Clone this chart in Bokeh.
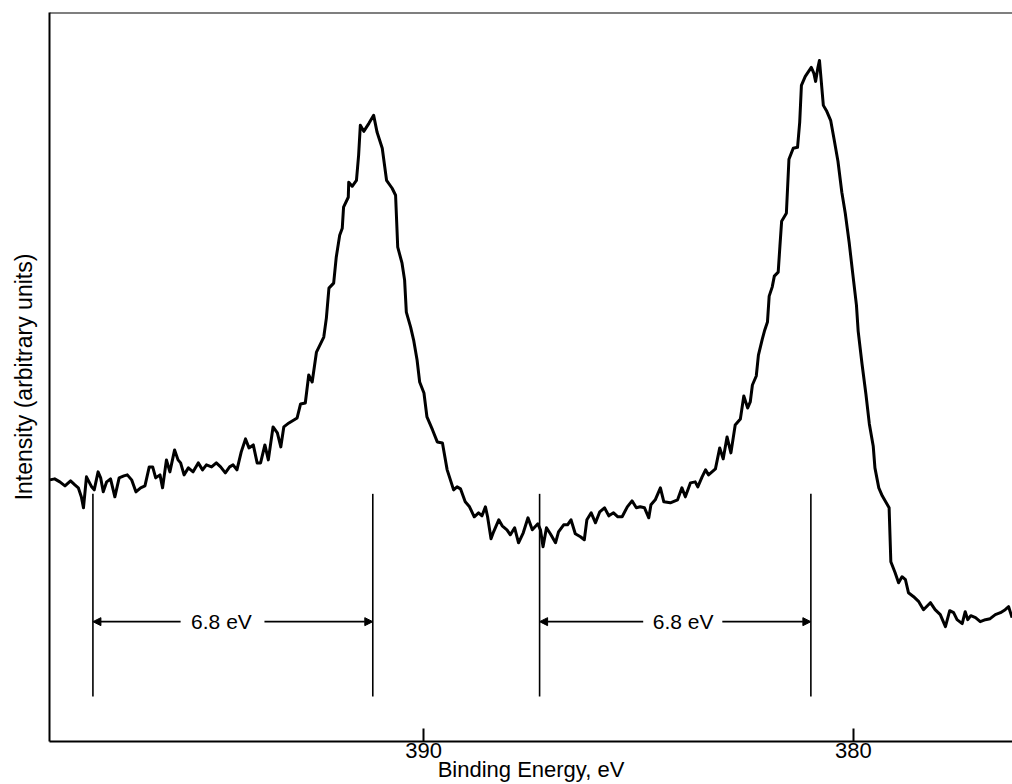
from bokeh.plotting import figure
from bokeh.models import Range1d, FixedTicker, Span, Arrow, NormalHead
from bokeh.core.properties import value
from bokeh.embed import file_html
from bokeh.resources import INLINE

# ---- data (binding energy in eV, intensity in arbitrary units) ----
energy = [
    398.69, 398.58, 398.46, 398.34, 398.21, 398.11, 398.03, 397.96, 397.91, 397.84,
    397.78, 397.72, 397.66, 397.57, 397.51, 397.45, 397.37, 397.28, 397.18, 397.08,
    396.97, 396.89, 396.79, 396.69, 396.58, 396.48, 396.38, 396.30, 396.23, 396.13,
    396.07, 395.98, 395.90, 395.79, 395.71, 395.65, 395.57, 395.47, 395.36, 395.24,
    395.14, 395.05, 394.93, 394.82, 394.72, 394.61, 394.51, 394.43, 394.34, 394.24,
    394.14, 394.06, 393.96, 393.87, 393.79, 393.69, 393.61, 393.50, 393.40, 393.32,
    393.25, 393.13, 392.94, 392.86, 392.75, 392.67, 392.59, 392.49, 392.32, 392.26,
    392.20, 392.09, 392.03, 391.95, 391.89, 391.86, 391.75, 391.74, 391.66, 391.56,
    391.51, 391.47, 391.39, 391.27, 391.16, 391.08, 390.96, 390.86, 390.73, 390.65,
    390.60, 390.50, 390.44, 390.40, 390.30, 390.23, 390.15, 390.09, 389.99, 389.92,
    389.79, 389.68, 389.56, 389.45, 389.30, 389.22, 389.14, 389.03, 388.93, 388.82,
    388.72, 388.64, 388.56, 388.51, 388.43, 388.37, 388.25, 388.17, 388.06, 387.98,
    387.88, 387.79, 387.68, 387.57, 387.47, 387.34, 387.28, 387.22, 387.14, 387.05,
    386.93, 386.86, 386.74, 386.65, 386.57, 386.47, 386.35, 386.26, 386.20, 386.10,
    386.00, 385.90, 385.79, 385.69, 385.58, 385.48, 385.38, 385.26, 385.15, 385.05,
    384.96, 384.86, 384.76, 384.71, 384.61, 384.49, 384.41, 384.26, 384.09, 383.99,
    383.91, 383.79, 383.68, 383.62, 383.52, 383.44, 383.37, 383.21, 383.11, 383.03,
    382.94, 382.85, 382.75, 382.63, 382.55, 382.46, 382.40, 382.35, 382.26, 382.21,
    382.12, 382.07, 382.00, 381.96, 381.89, 381.84, 381.75, 381.71, 381.67, 381.56,
    381.50, 381.40, 381.30, 381.25, 381.21, 381.12, 380.98, 380.92, 380.88, 380.83,
    380.79, 380.75, 380.70, 380.62, 380.53, 380.45, 380.36, 380.27, 380.19, 380.10,
    380.02, 379.93, 379.89, 379.80, 379.71, 379.63, 379.54, 379.50, 379.41, 379.33,
    379.21, 379.17, 379.13, 379.03, 378.95, 378.87, 378.79, 378.72, 378.60, 378.48,
    378.37, 378.21, 378.10, 377.98, 377.86, 377.76, 377.67, 377.59, 377.47, 377.40,
    377.34, 377.27, 377.16, 377.05, 376.93, 376.82, 376.70, 376.58, 376.47, 376.39,
    376.31,
]
intensity = [
    262, 263, 260, 256, 261, 257, 254, 245, 234, 265,
    260, 255, 252, 270, 264, 250, 260, 263, 245, 264,
    266, 267, 262, 250, 254, 256, 275, 275, 264, 267,
    254, 282, 270, 292, 282, 279, 267, 274, 270, 279,
    272, 277, 275, 279, 275, 269, 275, 277, 272, 290,
    303, 294, 297, 279, 279, 297, 282, 315, 309, 295,
    315, 319, 324, 338, 339, 367, 360, 390, 405, 424,
    454, 459, 485, 507, 514, 535, 545, 560, 556, 562,
    587, 617, 611, 619, 627, 610, 594, 562, 554, 547,
    495, 479, 462, 430, 415, 402, 382, 360, 349, 325,
    312, 300, 299, 272, 252, 255, 253, 240, 235, 225,
    229, 226, 235, 225, 203, 210, 222, 216, 212, 207,
    214, 199, 209, 224, 212, 218, 212, 195, 214, 208,
    199, 210, 217, 217, 222, 208, 205, 202, 222, 229,
    219, 230, 234, 226, 229, 225, 225, 235, 241, 234,
    235, 234, 224, 237, 242, 254, 240, 239, 242, 254,
    245, 259, 260, 255, 265, 272, 267, 273, 294, 283,
    305, 289, 317, 323, 346, 334, 340, 357, 366, 387,
    403, 411, 420, 446, 455, 466, 470, 496, 521, 529,
    583, 594, 595, 620, 657, 666, 675, 669, 661, 674,
    682, 662, 637, 631, 622, 603, 581, 550, 529, 500,
    470, 437, 411, 378, 348, 318, 296, 274, 254, 246,
    237, 234, 180, 169, 159, 165, 162, 149, 145, 140,
    132, 139, 132, 127, 115, 131, 129, 122, 118, 130,
    122, 126, 124, 120, 122, 123, 127, 129, 132, 135,
    124,
]

x_ticks = [390, 380]
x_label = "Binding Energy, eV"
y_label = "Intensity (arbitrary units)"

# separation markers (eV positions of the vertical lines)
marker_energy = [397.69, 391.18, 387.30, 380.99]
marker_low, marker_high = 45, 248
sep_label = "6.8 eV"
sep_text_x = [394.70, 383.96]
sep_level = 120
# arrow pieces: (start near text, end at marker line)
arrow_start = [395.65, 393.70, 384.89, 383.05]
arrow_end = [397.69, 391.18, 387.30, 380.99]

FONT = "Liberation Sans"

p = figure(width=1012, height=784,
           x_range=Range1d(398.70, 376.30), y_range=Range1d(0, 730),
           output_backend="svg", toolbar_location=None,
           min_border_left=49, min_border_right=0, min_border_top=12, min_border_bottom=0)
p.outline_line_color = None
p.grid.visible = False
p.background_fill_color = "white"
p.border_fill_color = "white"

xa = p.xaxis[0]
xa.ticker = FixedTicker(ticks=x_ticks)
xa.minor_tick_line_color = None
xa.major_tick_in = 13
xa.major_tick_out = 0
xa.major_tick_line_width = 2
xa.axis_line_width = 2
xa.major_label_text_font = FONT
xa.major_label_text_font_size = "22px"
xa.major_label_text_color = "black"
xa.major_label_standoff = 1
xa.axis_label = x_label
xa.axis_label_text_font = FONT
xa.axis_label_text_font_size = "22px"
xa.axis_label_text_font_style = "normal"
xa.axis_label_text_color = "black"
xa.axis_label_standoff = -4

ya = p.yaxis[0]
ya.ticker = FixedTicker(ticks=[])
ya.minor_tick_line_color = None
ya.major_tick_in = 0
ya.major_tick_out = 0
ya.major_label_text_font_size = "0px"
ya.major_label_standoff = 0
ya.axis_line_width = 2
ya.axis_label = y_label
ya.axis_label_text_font = FONT
ya.axis_label_text_font_size = "23px"
ya.axis_label_text_font_style = "normal"
ya.axis_label_text_color = "black"
ya.axis_label_standoff = 13

p.add_layout(Span(location=730, dimension="width", line_color="black", line_width=2))

# spectrum
p.line(energy, intensity, line_color="black", line_width=3, line_join="round")

# marker lines
p.segment(x0=marker_energy, y0=[marker_low] * 4, x1=marker_energy, y1=[marker_high] * 4,
          line_color="black", line_width=1.6)

for xs, xe in zip(arrow_start, arrow_end):
    p.add_layout(Arrow(end=NormalHead(size=8, fill_color="black", line_color="black", line_width=1),
                       x_start=xs, y_start=sep_level, x_end=xe, y_end=sep_level,
                       line_color="black", line_width=1.6))

p.text(x=sep_text_x, y=[sep_level] * 2, text=[sep_label] * 2,
       text_align="center", text_baseline="middle",
       text_font=value(FONT), text_font_size="21px", text_color="black")

open("out.html", "w").write(file_html(p, INLINE))
